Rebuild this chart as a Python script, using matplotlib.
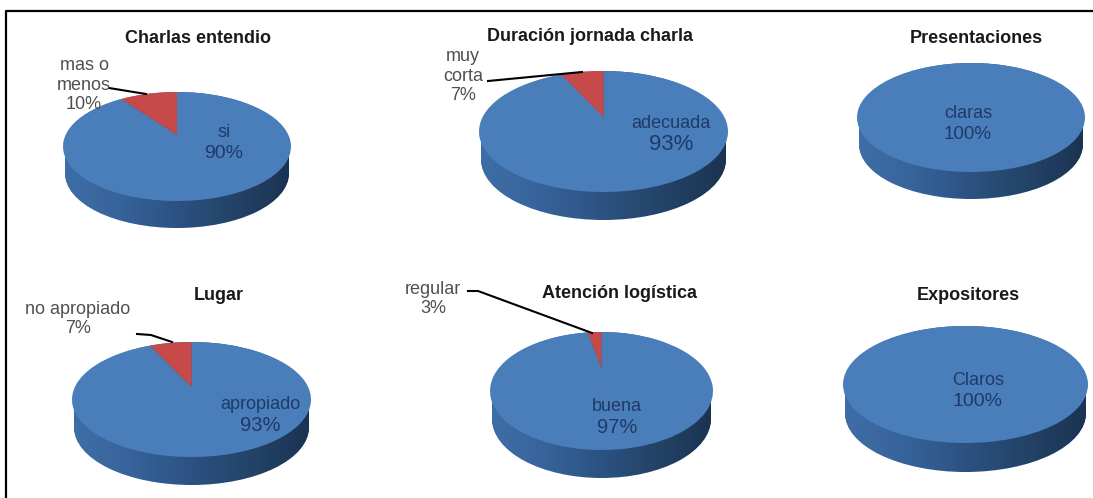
import numpy as np
import matplotlib
matplotlib.use('Agg')
import matplotlib.pyplot as plt
from matplotlib.colors import LinearSegmentedColormap
from matplotlib.patches import Ellipse

W, H = 1093, 498
plt.rcParams['font.family'] = ['Liberation Sans', 'DejaVu Sans']

titles = ['Charlas entendio', 'Duración jornada charla', 'Presentaciones',
          'Lugar', 'Atención logística', 'Expositores']
slice_values = [[90, 10], [93, 7], [100], [93, 7], [97, 3], [100]]
slice_labels = [['si', 'mas o\nmenos'], ['adecuada', 'muy\ncorta'], ['claras'],
                ['apropiado', 'no apropiado'], ['buena', 'regular'], ['Claros']]

# left, right, top, bottom of top face, bottom of the side (pixels)
boxes = [(63, 291, 92, 201, 228), (479, 728, 71, 192, 220), (857, 1085, 63, 172, 199),
         (72, 311, 342, 457, 485), (490, 713, 332, 450, 478), (843, 1088, 326, 443, 472)]
apex_y = [135, 117, None, 387, 368, None]
title_pos = [(198, 38), (590, 36), (976, 38), (219, 295), (619, 293), (968, 295)]
inner_pos = [(224, 143), (671, 134), (968, 124), (260, 415), (617, 417), (978, 391)]
pct_size = [14, 16, 13.5, 14.5, 14.5, 14]
outer_pos = [(84, 85), (463, 76), None, (78, 319), (433, 299), None]
leaders = [[(109, 88), (146, 94)], [(488, 81), (582, 72)], None,
           [(137, 334), (151, 335), (172, 342)],
           [(468, 291), (478, 291), (592, 333)], None]

BLUE = '#4a7ebb'
RED = '#c64a4a'
side_cmap = LinearSegmentedColormap.from_list(
    'side', ['#3f6ea6', '#36639a', '#2c5282', '#234366', '#1b3352'])

fig = plt.figure(figsize=(W / 100, H / 100), dpi=100)
bg = fig.add_axes([0, 0, 1, 1])
bg.set_xlim(0, W)
bg.set_ylim(H, 0)
bg.axis('off')

# only the top and left edge of the frame are in the picture
bg.plot([6, 6, W], [H, 11, 11], color='black', lw=1.6)

for box in boxes:
    x0, x1, y0, y1, y2 = box
    cy = (y0 + y1) / 2
    depth = y2 - y1
    for yc in np.arange(cy, cy + depth + 1):
        clip = Ellipse(((x0 + x1) / 2, yc), x1 - x0 - 4, y1 - y0, transform=bg.transData)
        img = bg.imshow(np.linspace(0, 1, 256)[None, :], cmap=side_cmap, aspect='auto',
                        extent=(x0, x1, y2, y0))
        img.set_clip_path(clip)
bg.set_xlim(0, W)
bg.set_ylim(H, 0)

for i, values in enumerate(slice_values):
    x0, x1, y0, y1, y2 = boxes[i]
    ax = fig.add_axes([x0 / W, 1 - y1 / H, (x1 - x0) / W, (y1 - y0) / H])
    wedges, _ = ax.pie(values, colors=[BLUE, RED], startangle=90, counterclock=False, radius=1)
    ax.set_aspect('auto')
    ax.set_xlim(-1, 1)
    ax.set_ylim(-1, 1)
    ax.patch.set_alpha(0)
    # perspective of the 3d view: centre goes up, far side gets squeezed
    if apex_y[i] is not None:
        a = ((y0 + y1) / 2 - apex_y[i]) / ((y1 - y0) / 2)
        for w in wedges:
            v = w.get_path().vertices
            d = 1 + a * v[:, 1]
            v[:, 0], v[:, 1] = v[:, 0] * np.sqrt(1 - a ** 2) / d, (v[:, 1] + a) / d
            w.stale = True

top = fig.add_axes([0, 0, 1, 1])
top.set_xlim(0, W)
top.set_ylim(H, 0)
top.axis('off')

for i, title in enumerate(titles):
    top.text(title_pos[i][0], title_pos[i][1], title, ha='center', va='center',
             fontsize=13, fontweight='bold', color='#1a1a1a')
    values = slice_values[i]
    top.text(inner_pos[i][0], inner_pos[i][1] - 10.5, slice_labels[i][0], ha='center', va='center',
             fontsize=13, color='#1f3a68')
    top.text(inner_pos[i][0], inner_pos[i][1] + 10.5, f'{values[0]}%', ha='center', va='center',
             fontsize=pct_size[i], color='#1f3a68')
    if outer_pos[i] is not None:
        top.text(outer_pos[i][0], outer_pos[i][1], f'{slice_labels[i][1]}\n{values[1]}%',
                 ha='center', va='center', fontsize=13, color='#505050', linespacing=1.22)
        xs, ys = zip(*leaders[i])
        top.plot(xs, ys, color='black', lw=1.5)

fig.savefig('out.png', dpi=100)
